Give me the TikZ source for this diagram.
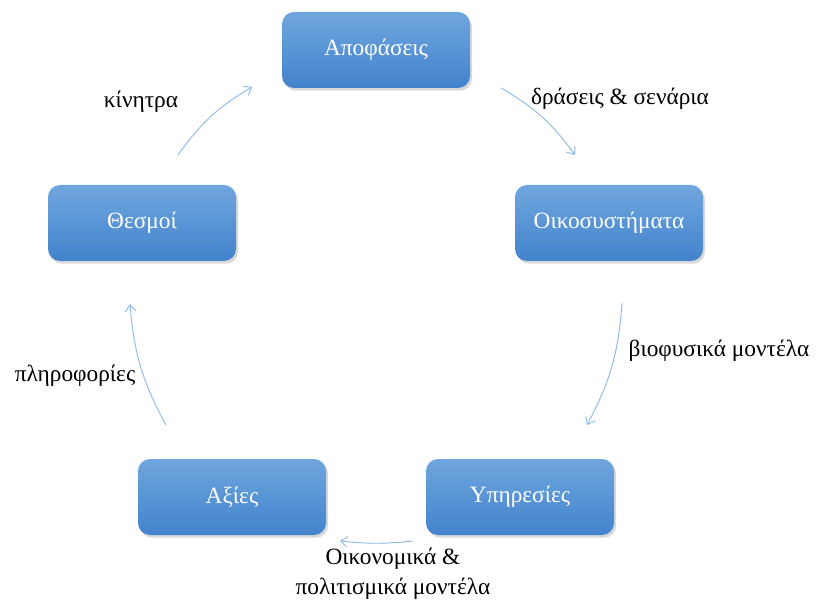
\documentclass[tikz,border=0pt]{standalone}
\usepackage{fontspec}
\setmainfont{Liberation Serif}
\usetikzlibrary{arrows.meta,shadows,calc}
\definecolor{cycleTop}   {RGB}{112, 166, 222}
\definecolor{cycleBot}   {RGB}{ 66, 131, 204}
\definecolor{cycleArrow} {RGB}{140, 186, 232}
\tikzset{
  cyclebox/.style={rounded corners=9pt,minimum width=188*0.75pt,minimum height=76*0.75pt,
                   top color=cycleTop,bottom color=cycleBot,draw=none,
                   drop shadow={shadow xshift=1.5pt,shadow yshift=-2pt,opacity=0.3},
                   font=\fontsize{17.5}{20}\selectfont,text=white},
  cyclelbl/.style={font=\fontsize{17.5}{22.5}\selectfont,text=black,align=center},
  cyclearr/.style={-{Straight Barb[length=5pt,width=8pt]},cycleArrow,line width=0.7pt}
}
\begin{document}
\begin{tikzpicture}[x=0.75pt,y=-0.75pt]
    \useasboundingbox (0,0) rectangle (817,602);

    % ── KOMBOI ─────────────────────────────────────────────
    \node[cyclebox] (apofaseis) at (376,50)  {Αποφάσεις};
    \node[cyclebox] (oikosyst)  at (609,223) {Οικοσυστήματα};
    \node[cyclebox] (ypiresies) at (520,497) {Υπηρεσίες};
    \node[cyclebox] (axies)     at (232,497) {Αξίες};
    \node[cyclebox] (thesmoi)   at (142,223) {Θεσμοί};

    % ── AKRA BELON ─────────────────────────────────────────
    \coordinate (thA) at (178,155);  \coordinate (apB) at (252,87);
    \coordinate (apA) at (501,88);   \coordinate (oiB) at (575,155);
    \coordinate (oiA) at (622,303);  \coordinate (ypB) at (587,425);
    \coordinate (ypA) at (413,541);  \coordinate (axB) at (340,541);
    \coordinate (axA) at (166,425);  \coordinate (thB) at (130,304);

    \draw[cyclearr] (thA) to[bend left=12] (apB);
    \draw[cyclearr] (apA) to[bend left=12] (oiB);
    \draw[cyclearr] (oiA) to[bend left=12] (ypB);
    \draw[cyclearr] (ypA) to[bend left=6]  (axB);
    \draw[cyclearr] (axA) to[bend left=12] (thB);

    % ── ETIKETES ───────────────────────────────────────────
    \node[cyclelbl] (kinitra)  at (141,102) {κίνητρα};
    \node[cyclelbl] (draseis)  at (620,99)  {δράσεις \& σενάρια};
    \node[cyclelbl] (viofys)   at (719,351) {βιοφυσικά μοντέλα};
    \node[cyclelbl] (plirof)   at (75,376)  {πληροφορίες};
    \node[cyclelbl] (oikonom)  at (393,574)
          {Οικονομικά \&\\πολιτισμικά μοντέλα};

\end{tikzpicture}
\end{document}
